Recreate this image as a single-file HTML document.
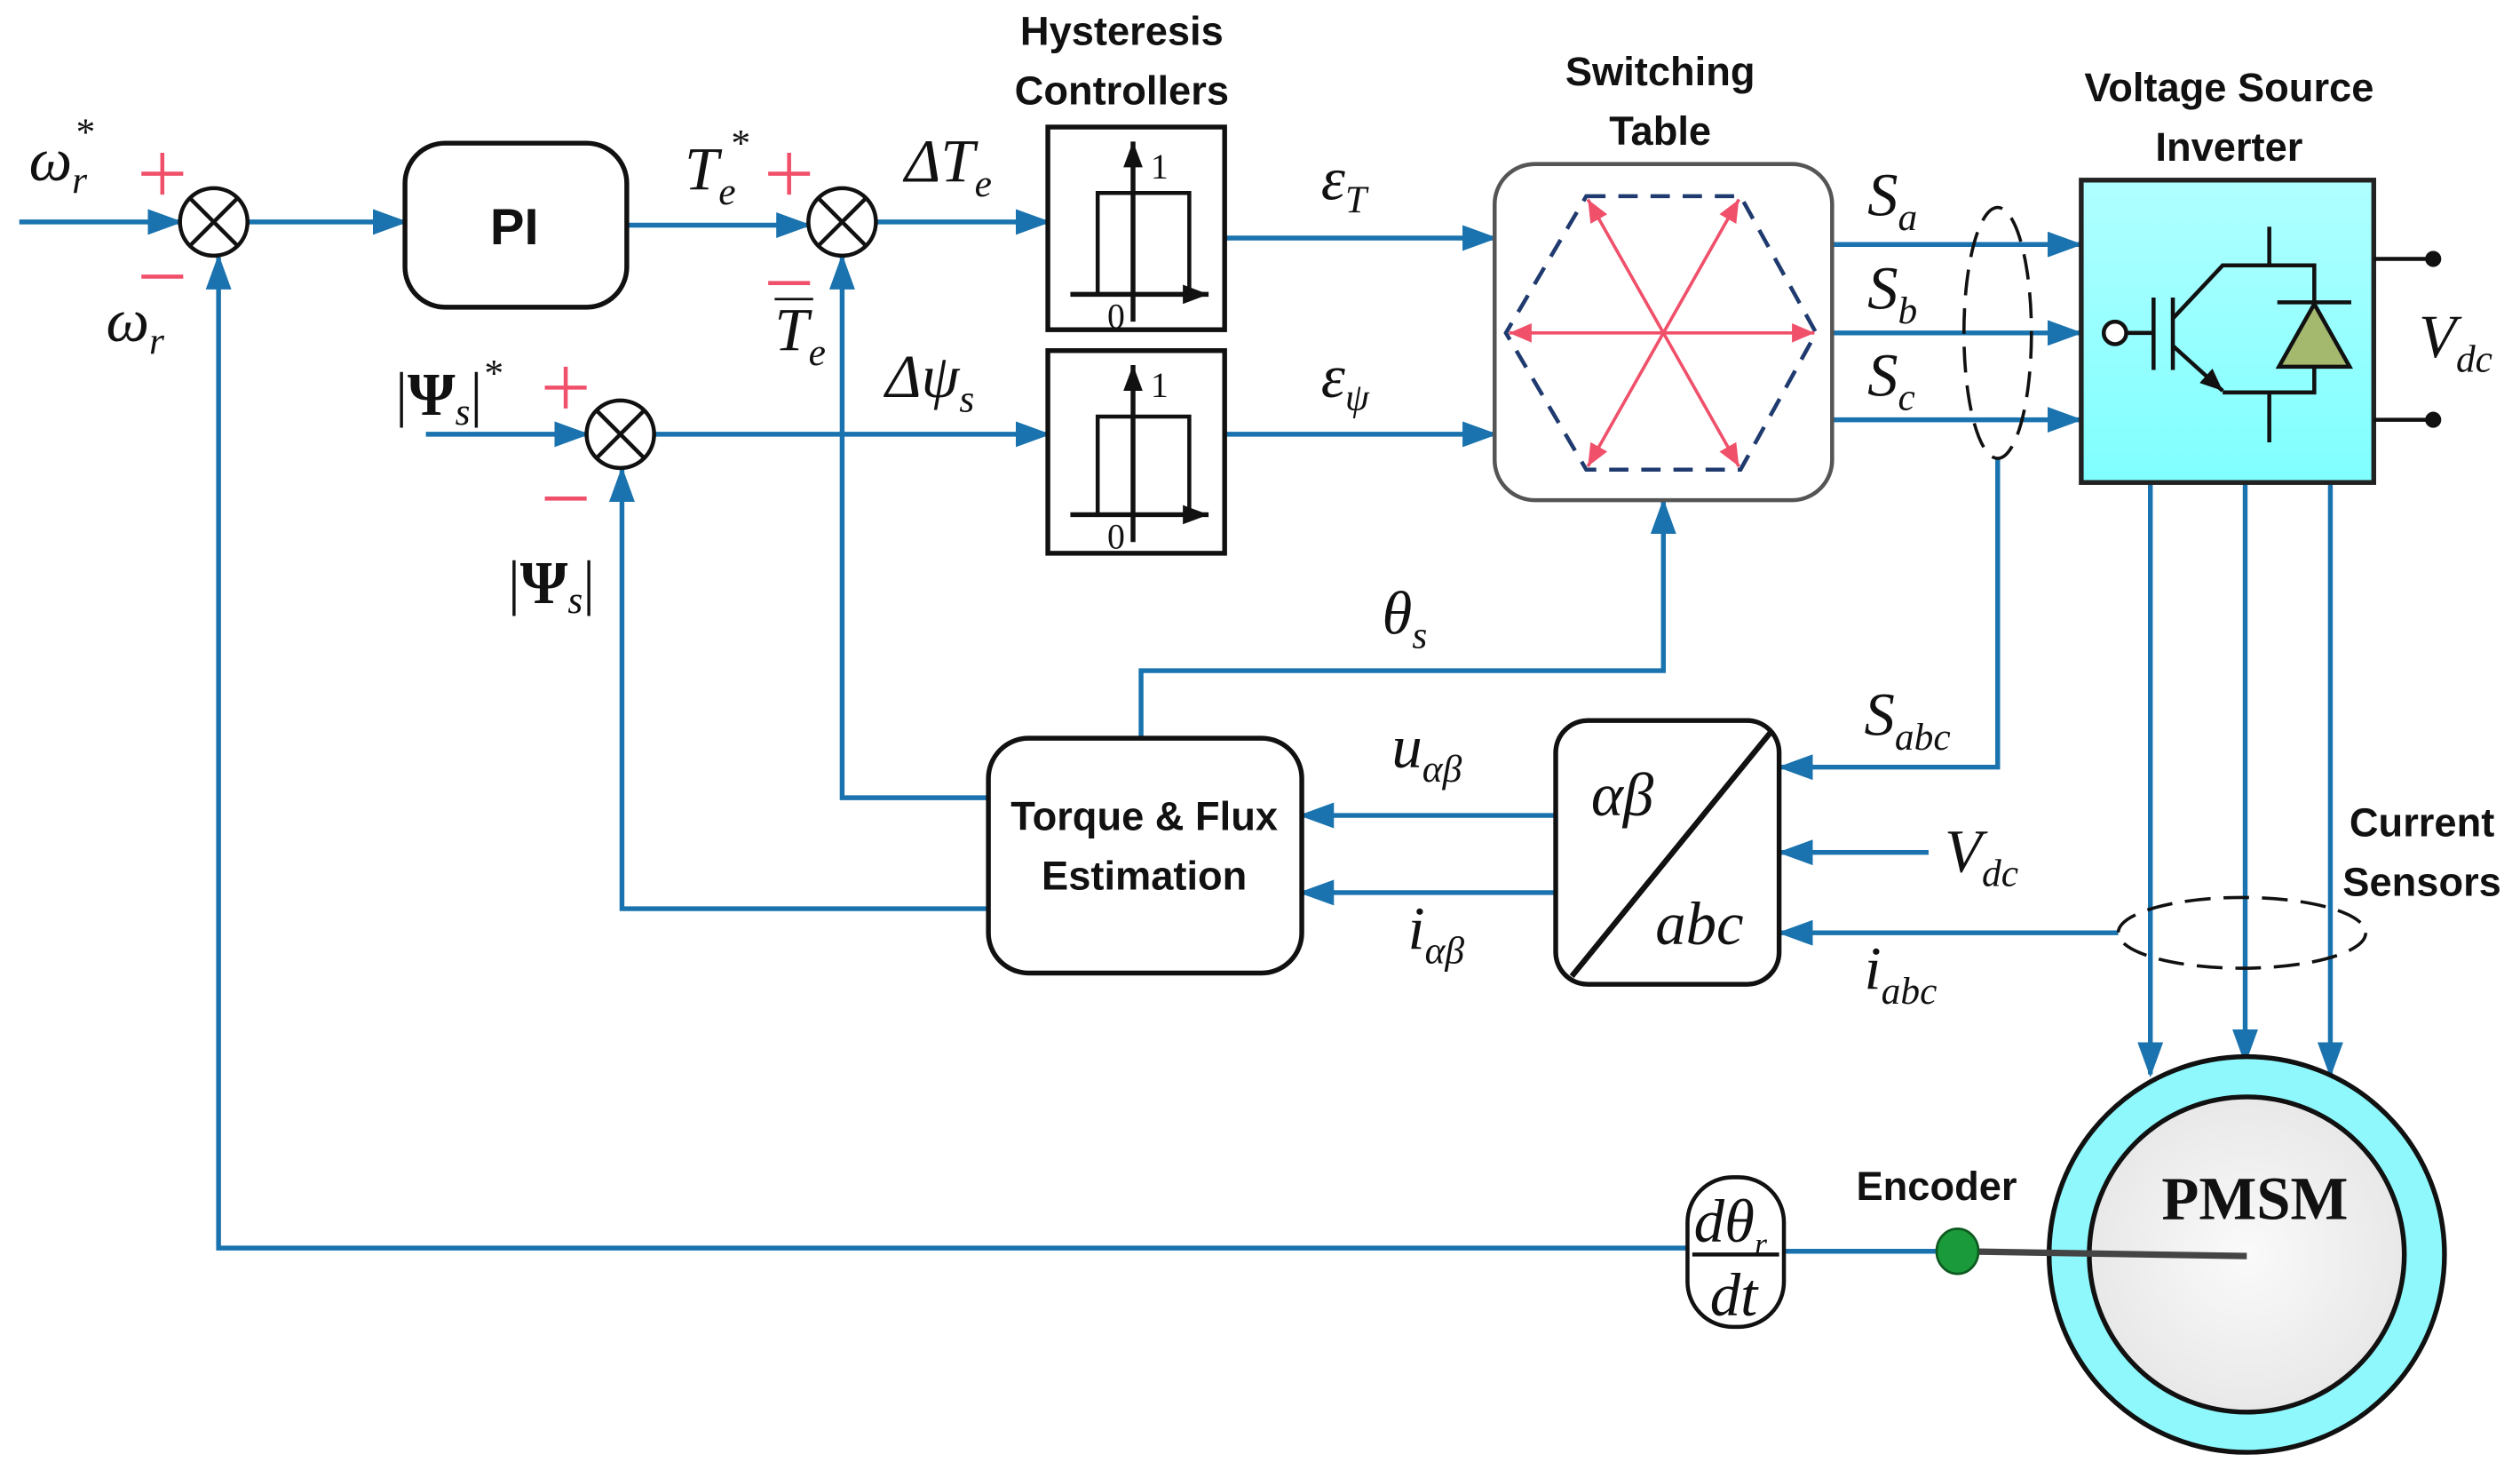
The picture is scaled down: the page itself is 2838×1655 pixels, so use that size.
<!DOCTYPE html>
<html><head><meta charset="utf-8"><style>
html,body{margin:0;padding:0;background:#fff}
svg{display:block}
.t{font-family:"Liberation Sans Narrow","Liberation Sans",sans-serif;font-weight:bold;font-size:25px;fill:#111;text-anchor:middle}
.m{font-family:"Liberation Serif",serif;font-style:italic;font-size:38px;fill:#111}
.s{font-size:24px}
.b{stroke:#1a73ae;stroke-width:3;fill:none}
.k{stroke:#111;fill:none}
.r{stroke:#f0506a;stroke-width:2.5}
</style></head><body>
<svg width="2838" height="1655" viewBox="0 0 1568 914" preserveAspectRatio="none" xmlns="http://www.w3.org/2000/svg">
<defs>
<marker id="a" markerUnits="userSpaceOnUse" markerWidth="22" markerHeight="16" refX="20" refY="8" orient="auto"><path d="M0,0 L22,8 L0,16 Z" fill="#1a73ae"/></marker>
<marker id="c" markerUnits="userSpaceOnUse" markerWidth="14" markerHeight="12" refX="14" refY="6" orient="auto"><path d="M0,0 L14,6 L0,12 Z" fill="#f0506a"/></marker>
<marker id="d" markerUnits="userSpaceOnUse" markerWidth="14" markerHeight="12" refX="14" refY="6" orient="auto"><path d="M0,0 L14,6 L0,12 Z" fill="#111"/></marker>
<marker id="h" markerUnits="userSpaceOnUse" markerWidth="16" markerHeight="12" refX="16" refY="6" orient="auto"><path d="M0,0 L16,6 L0,12 Z" fill="#111"/></marker>
<linearGradient id="cy" x1="0" y1="0" x2="0" y2="1"><stop offset="0" stop-color="#b0ffff"/><stop offset="1" stop-color="#80ffff"/></linearGradient>
<radialGradient id="gr"><stop offset="0" stop-color="#fafafa"/><stop offset="1" stop-color="#e8e8e8"/></radialGradient>
</defs>

<text class="t" x="698" y="28">Hysteresis</text>
<text class="t" x="698" y="65">Controllers</text>
<text class="t" x="1033" y="53">Switching</text>
<text class="t" x="1033" y="90">Table</text>
<text class="t" x="1387" y="63">Voltage Source</text>
<text class="t" x="1387" y="100">Inverter</text>
<text class="t" x="1507" y="520">Current</text>
<text class="t" x="1507" y="557">Sensors</text>
<text class="t" x="1205" y="746">Encoder</text>

<line class="b" x1="12" y1="138" x2="112" y2="138" marker-end="url(#a)"/>
<line class="b" x1="154" y1="138" x2="252" y2="138" marker-end="url(#a)"/>
<line class="b" x1="390" y1="140" x2="503" y2="140" marker-end="url(#a)"/>
<line class="b" x1="545" y1="138" x2="652" y2="138" marker-end="url(#a)"/>
<line class="b" x1="265" y1="270" x2="365" y2="270" marker-end="url(#a)"/>
<line class="b" x1="407" y1="270" x2="652" y2="270" marker-end="url(#a)"/>
<line class="b" x1="762" y1="148" x2="930" y2="148" marker-end="url(#a)"/>
<line class="b" x1="762" y1="270" x2="930" y2="270" marker-end="url(#a)"/>
<line class="b" x1="1140" y1="152" x2="1294" y2="152" marker-end="url(#a)"/>
<line class="b" x1="1140" y1="207" x2="1294" y2="207" marker-end="url(#a)"/>
<line class="b" x1="1140" y1="261" x2="1294" y2="261" marker-end="url(#a)"/>
<polyline class="b" points="1243,285 1243,477 1108,477" marker-end="url(#a)"/>
<line class="b" x1="1200" y1="530" x2="1108" y2="530" marker-end="url(#a)"/>
<line class="b" x1="1318" y1="580" x2="1108" y2="580" marker-end="url(#a)"/>
<line class="b" x1="968" y1="507" x2="810" y2="507" marker-end="url(#a)"/>
<line class="b" x1="968" y1="555" x2="810" y2="555" marker-end="url(#a)"/>
<polyline class="b" points="710,459 710,417 1035,417 1035,312" marker-end="url(#a)"/>
<polyline class="b" points="615,496 524,496 524,160" marker-end="url(#a)"/>
<polyline class="b" points="615,565 387,565 387,292" marker-end="url(#a)"/>
<polyline class="b" points="1050,776 136,776 136,160" marker-end="url(#a)"/>
<line class="b" x1="1110" y1="778" x2="1210" y2="778"/>
<line class="b" x1="1338" y1="300" x2="1338" y2="668" marker-end="url(#a)"/>
<line class="b" x1="1397" y1="300" x2="1397" y2="660" marker-end="url(#a)"/>
<line class="b" x1="1450" y1="300" x2="1450" y2="668" marker-end="url(#a)"/>

<g class="k" stroke-width="2.5" fill="#fff">
<circle cx="133" cy="138" r="21" fill="#fff"/><path d="M118,123 L148,153 M148,123 L118,153"/>
<circle cx="524" cy="138" r="21" fill="#fff"/><path d="M509,123 L539,153 M539,123 L509,153"/>
<circle cx="386" cy="270" r="21" fill="#fff"/><path d="M371,255 L401,285 M401,255 L371,285"/>
</g>
<g class="r">
<path d="M88,108 H114 M101,95 V121"/><path d="M88,172 H114"/>
<path d="M478,108 H504 M491,95 V121"/><path d="M478,176 H504"/>
<path d="M339,241 H365 M352,228 V254"/><path d="M339,310 H365"/>
</g>

<rect x="252" y="89" width="138" height="102" rx="25" fill="#fff" stroke="#111" stroke-width="3"/>
<text x="320" y="152" font-family="Liberation Sans" font-weight="bold" font-size="32" text-anchor="middle" fill="#111">PI</text>

<g>
<rect x="652" y="79" width="110" height="126" fill="#fff" stroke="#111" stroke-width="3"/>
<line class="k" stroke-width="3" x1="666" y1="183" x2="752" y2="183" marker-end="url(#h)"/>
<line class="k" stroke-width="3" x1="705" y1="200" x2="705" y2="88" marker-end="url(#h)"/>
<polyline class="k" stroke-width="2.5" points="683,183 683,120 740,120 740,183"/>
<text x="716" y="111" font-family="Liberation Serif" font-size="22" fill="#111">1</text>
<text x="689" y="204" font-family="Liberation Serif" font-size="22" fill="#111">0</text>
</g>
<g transform="translate(0,139)">
<rect x="652" y="79" width="110" height="126" fill="#fff" stroke="#111" stroke-width="3"/>
<line class="k" stroke-width="3" x1="666" y1="181" x2="752" y2="181" marker-end="url(#h)"/>
<line class="k" stroke-width="3" x1="705" y1="198" x2="705" y2="88" marker-end="url(#h)"/>
<polyline class="k" stroke-width="2.5" points="683,181 683,120 740,120 740,181"/>
<text x="716" y="108" font-family="Liberation Serif" font-size="22" fill="#111">1</text>
<text x="689" y="202" font-family="Liberation Serif" font-size="22" fill="#111">0</text>
</g>

<rect x="930" y="102" width="210" height="209" rx="25" fill="#fff" stroke="#555" stroke-width="2.5"/>
<polygon points="987,122 1083,122 1130,207 1083,292 987,292 937,207" fill="none" stroke="#1f3a6e" stroke-width="2.5" stroke-dasharray="12,8"/>
<g stroke="#f0506a" stroke-width="2">
<line x1="1035" y1="207" x2="988" y2="124" marker-end="url(#c)"/>
<line x1="1035" y1="207" x2="1082" y2="124" marker-end="url(#c)"/>
<line x1="1035" y1="207" x2="1129" y2="207" marker-end="url(#c)"/>
<line x1="1035" y1="207" x2="939" y2="207" marker-end="url(#c)"/>
<line x1="1035" y1="207" x2="988" y2="290" marker-end="url(#c)"/>
<line x1="1035" y1="207" x2="1082" y2="290" marker-end="url(#c)"/>
</g>

<ellipse cx="1243" cy="207" rx="21" ry="78" fill="none" stroke="#111" stroke-width="2" stroke-dasharray="16,8"/>
<ellipse cx="1395" cy="580" rx="77" ry="22" fill="none" stroke="#111" stroke-width="2" stroke-dasharray="16,8"/>

<rect x="1295" y="112" width="182" height="188" fill="url(#cy)" stroke="#222" stroke-width="3"/>
<g stroke="#111" stroke-width="2.5" fill="none">
<circle cx="1316" cy="207" r="7" fill="#fff"/>
<line x1="1323" y1="207" x2="1340" y2="207"/>
<line x1="1340" y1="185" x2="1340" y2="230"/>
<line x1="1352" y1="185" x2="1352" y2="230"/>
<polyline points="1352,198 1383,165 1440,165 1440,188"/>
<line x1="1412" y1="141" x2="1412" y2="165"/>
<line x1="1352" y1="215" x2="1383" y2="243" marker-end="url(#d)"/>
<polyline points="1383,244 1440,244 1440,228"/>
<line x1="1412" y1="244" x2="1412" y2="275"/>
<line x1="1417" y1="188" x2="1463" y2="188"/>
<polygon points="1440,189 1462,228 1418,228" fill="#a4b86e"/>
<line x1="1477" y1="161" x2="1513" y2="161"/>
<line x1="1477" y1="261" x2="1513" y2="261"/>
</g>
<circle cx="1514" cy="161" r="5" fill="#111"/><circle cx="1514" cy="261" r="5" fill="#111"/>

<rect x="968" y="448" width="139" height="164" rx="20" fill="#fff" stroke="#111" stroke-width="3"/>
<line x1="1102" y1="455" x2="978" y2="607" stroke="#111" stroke-width="3.5"/>
<text class="m" x="990" y="507">αβ</text>
<text class="m" x="1030" y="587">abc</text>

<rect x="615" y="459" width="195" height="146" rx="25" fill="#fff" stroke="#111" stroke-width="3"/>
<text class="t" x="712" y="516">Torque &amp; Flux</text>
<text class="t" x="712" y="553">Estimation</text>

<rect x="1050" y="732" width="60" height="93" rx="28" fill="#fff" stroke="#111" stroke-width="2.5"/>
<line x1="1053" y1="780" x2="1107" y2="780" stroke="#111" stroke-width="2.5"/>
<text class="m" x="1054" y="772" font-size="30">dθ<tspan font-size="20" dy="8">r</tspan></text>
<text class="m" x="1064" y="818" font-size="30">dt</text>

<circle cx="1398" cy="780" r="123" fill="#8ff8fc" stroke="#111" stroke-width="3"/>
<circle cx="1398" cy="780" r="98" fill="url(#gr)" stroke="#111" stroke-width="3"/>
<line x1="1218" y1="778" x2="1398" y2="781" stroke="#444" stroke-width="4"/>
<ellipse cx="1218" cy="778" rx="13" ry="14" fill="#1a9a3a" stroke="#0d5a20" stroke-width="1.5"/>
<text x="1403" y="758" font-family="Liberation Serif" font-weight="bold" font-size="38" text-anchor="middle" fill="#111">PMSM</text>

<text class="m" x="18" y="112">ω<tspan class="s" dy="8">r</tspan><tspan class="s" dx="-8" dy="-30">*</tspan></text>
<text class="m" x="66" y="212">ω<tspan class="s" dy="8">r</tspan></text>
<text class="m" x="426" y="118">T<tspan class="s" dy="9">e</tspan><tspan class="s" dx="-4" dy="-30">*</tspan></text>
<text class="m" x="482" y="218">T<tspan class="s" dy="9">e</tspan></text>
<line x1="482" y1="186" x2="506" y2="186" stroke="#111" stroke-width="1.5"/>
<text class="m" x="563" y="113">ΔT<tspan class="s" dy="9">e</tspan></text>
<text class="m" x="551" y="247">Δψ<tspan class="s" dy="9">s</tspan></text>
<text class="m" x="246" y="258"><tspan font-style="normal">|</tspan><tspan font-style="normal" font-weight="bold">Ψ</tspan><tspan class="s" dy="6">s</tspan><tspan font-style="normal" dy="-6">|</tspan><tspan class="s" dy="-18">*</tspan></text>
<text class="m" x="316" y="375"><tspan font-style="normal">|</tspan><tspan font-style="normal" font-weight="bold">Ψ</tspan><tspan class="s" dy="6">s</tspan><tspan font-style="normal" dy="-6">|</tspan></text>
<text class="m" x="822" y="124">ε<tspan class="s" dy="8">T</tspan></text>
<text class="m" x="822" y="247">ε<tspan class="s" dy="8">ψ</tspan></text>
<text class="m" x="1162" y="134">S<tspan class="s" dy="9">a</tspan></text>
<text class="m" x="1162" y="192">S<tspan class="s" dy="9">b</tspan></text>
<text class="m" x="1162" y="246">S<tspan class="s" dy="9">c</tspan></text>
<text class="m" x="1505" y="222">V<tspan class="s" dy="9">dc</tspan></text>
<text class="m" x="860" y="394">θ<tspan class="s" dy="9">s</tspan></text>
<text class="m" x="1160" y="457">S<tspan class="s" dy="9">abc</tspan></text>
<text class="m" x="1210" y="542">V<tspan class="s" dy="9">dc</tspan></text>
<text class="m" x="1160" y="615">i<tspan class="s" dy="9">abc</tspan></text>
<text class="m" x="866" y="477">u<tspan class="s" dy="9">αβ</tspan></text>
<text class="m" x="876" y="590">i<tspan class="s" dy="9">αβ</tspan></text>
</svg>
</body></html>
